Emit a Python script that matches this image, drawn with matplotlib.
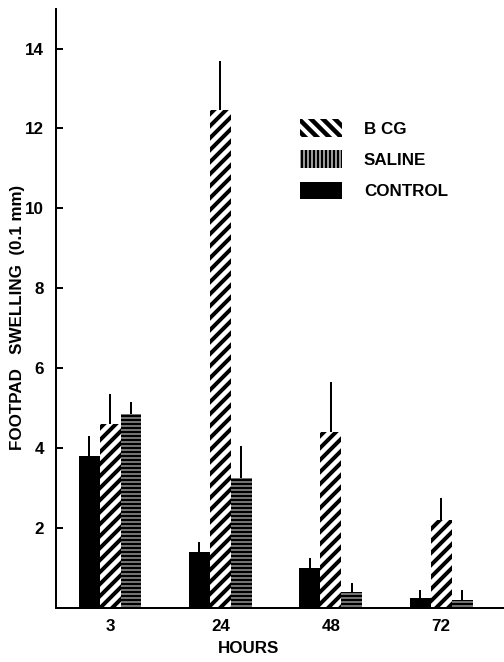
import numpy as np
import matplotlib
matplotlib.use("Agg")
import matplotlib.pyplot as plt
from matplotlib.patches import Patch

# footpad swelling (0.1 mm)
hours = ["3", "24", "48", "72"]
control = [3.8, 1.4, 1.0, 0.25]
control_err = [0.5, 0.25, 0.25, 0.2]
bcg = [4.6, 12.45, 4.4, 2.2]
bcg_err = [0.75, 1.25, 1.25, 0.55]
saline = [4.85, 3.25, 0.4, 0.2]
saline_err = [0.3, 0.8, 0.22, 0.25]

plt.rcParams["font.family"] = ["Liberation Sans", "DejaVu Sans"]
plt.rcParams["font.weight"] = "bold"

fig = plt.figure(figsize=(504 / 72, 662 / 72), dpi=72)
ax = fig.add_axes([0.111, 0.082, 0.889, 0.905])

x = np.arange(len(hours))
w = 0.19
err_kw = dict(ecolor="black", elinewidth=2, capsize=0)


def upper(e):
    return [np.zeros(len(e)), e]


# CONTROL - solid black
ax.bar(x - w, control, w, color="black", linewidth=0,
       yerr=upper(control_err), error_kw=err_kw)

# BCG - thick diagonal stripes
with plt.rc_context({"hatch.linewidth": 4.0}):
    ax.bar(x, bcg, w, facecolor="white", edgecolor="black", linewidth=0,
           hatch="//", yerr=upper(bcg_err), error_kw=err_kw)

# SALINE - black with thin white horizontal lines
with plt.rc_context({"hatch.linewidth": 0.9}):
    ax.bar(x + w, saline, w, facecolor="black", edgecolor="white", linewidth=0,
           hatch="---", yerr=upper(saline_err), error_kw=err_kw)

ax.set_xlim(-0.49, 3.57)
ax.set_ylim(0, 15)
ax.set_xticks(x)
ax.set_xticklabels(hours, fontsize=17, fontweight="bold")
ax.set_yticks([2, 4, 6, 8, 10, 12, 14])
ax.set_yticklabels(["2", "4", "6", "8", "10", "12", "14"], fontsize=17, fontweight="bold")
ax.tick_params(axis="x", length=0, pad=11)
ax.tick_params(axis="y", direction="in", length=7, width=2, pad=12)

for s in ["top", "right"]:
    ax.spines[s].set_visible(False)
for s in ["left", "bottom"]:
    ax.spines[s].set_linewidth(2)

ax.set_xlabel("HOURS", fontsize=17, fontweight="bold")
ax.xaxis.set_label_coords(0.43, -0.055)
ax.set_ylabel("FOOTPAD   SWELLING  (0.1 mm)", fontsize=17, fontweight="bold")
ax.yaxis.set_label_coords(-0.068, 0.485)

# legend (hatch patterns differ from the bars, as in the original)
h_bcg = Patch(facecolor="white", edgecolor="black", linewidth=0, hatch="\\\\")
h_sal = Patch(facecolor="white", edgecolor="black", linewidth=0, hatch="|||")
h_con = Patch(facecolor="black", edgecolor="black", linewidth=0)

leg = ax.legend([h_bcg, h_sal, h_con], ["B CG", "SALINE", "CONTROL"],
                loc="upper left", bbox_to_anchor=(0.545, 0.815),
                frameon=False, prop={"weight": "bold", "size": 17},
                handlelength=2.45, handleheight=1.2, labelspacing=0.8,
                handletextpad=1.3, borderpad=0, borderaxespad=0)

lp = leg.get_patches()
if hasattr(lp[0], "set_hatch_linewidth"):
    lp[0].set_hatch_linewidth(4.5)
    lp[1].set_hatch_linewidth(2.8)

fig.savefig("out.png", dpi=72)
